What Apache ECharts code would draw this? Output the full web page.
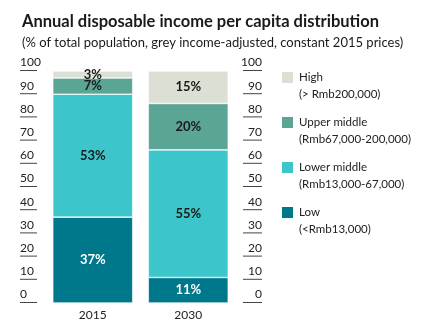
<!DOCTYPE html>
<html><head><meta charset="utf-8">
<script src="https://cdn.jsdelivr.net/npm/echarts@6/dist/echarts.min.js"></script>
<style>html,body{margin:0;padding:0;background:#fff}#c{width:435px;height:323px}</style>
</head><body><div id="c"></div>
<script>
var categories = ['2015', '2030'];
var seriesNames = ['Low', 'Lower middle', 'Upper middle', 'High'];
var seriesSub = ['(<Rmb13,000)', '(Rmb13,000-67,000)', '(Rmb67,000-200,000)', '(> Rmb200,000)'];
var lowValues = [37, 11];
var lowerMiddleValues = [53, 55];
var upperMiddleValues = [7, 20];
var highValues = [3, 14];
var lowLabels = ['37%', '11%'];
var lowerMiddleLabels = ['53%', '55%'];
var upperMiddleLabels = ['7%', '20%'];
var highLabels = ['3%', '15%'];
var yTicks = [0, 10, 20, 30, 40, 50, 60, 70, 80, 90, 100];

var colors = ['#00788c', '#3cc6cc', '#5ba595', '#dcdfd3'];
var values = [lowValues, lowerMiddleValues, upperMiddleValues, highValues];
var labels = [lowLabels, lowerMiddleLabels, upperMiddleLabels, highLabels];
var labelColors = ['#ffffff', '#1a1a1a', '#1a1a1a', '#1a1a1a'];
var FONT = 'Lato';

var chart = echarts.init(document.getElementById('c'), null, {renderer: 'canvas'});
var series = seriesNames.map(function (n, i) {
  return {
    name: n, type: 'bar', stack: 'a', barWidth: 80,
    data: values[i],
    itemStyle: {color: colors[i], borderColor: '#ffffff', borderWidth: 0.6},
    label: {
      show: true, position: 'inside', color: labelColors[i],
      fontFamily: FONT, fontSize: 13, fontWeight: 'bold',
      formatter: function (p) { return labels[i][p.dataIndex]; }
    }
  };
});
function yAxisCfg(pos, offset, lineLen, align) {
  return {
    type: 'value', min: 0, max: 100, interval: 10, position: pos, offset: offset,
    axisLine: {show: false}, axisTick: {show: false}, splitLine: {show: false},
    axisLabel: {
      margin: lineLen, align: align, verticalAlign: 'bottom',
      formatter: function (v) {
        return yTicks.indexOf(v) >= 0 ? '{t|' + v + '}\n{u| }' : '';
      },
      rich: {
        t: {fontFamily: FONT, fontSize: 12, color: '#222', lineHeight: 15, align: align},
        u: {width: lineLen, height: 1, lineHeight: 1, fontSize: 1, backgroundColor: '#444', align: align}
      }
    }
  };
}
chart.setOption({
  animation: false,
  title: {
    text: 'Annual disposable income per capita distribution',
    subtext: '(% of total population, grey income-adjusted, constant 2015 prices)',
    left: 17, top: 8, itemGap: 6,
    textStyle: {fontFamily: FONT, fontSize: 16.5, fontWeight: 'bold', color: '#1a1a1a'},
    subtextStyle: {fontFamily: FONT, fontSize: 13, color: '#1a1a1a'}
  },
  legend: {
    orient: 'vertical', left: 275, top: 64, itemGap: 11,
    itemWidth: 13, itemHeight: 30,
    icon: 'path://M0,0L13,0L13,13L0,13Z M0,30L0.01,30L0,30Z',
    data: ['High', 'Upper middle', 'Lower middle', 'Low'],
    textStyle: {fontFamily: FONT, fontSize: 11.5, color: '#222', lineHeight: 17},
    formatter: function (n) { return n + '\n' + seriesSub[seriesNames.indexOf(n)]; }
  },
  grid: {left: 45, right: 199, top: 71, bottom: 20},
  xAxis: {
    type: 'category', data: categories,
    axisLine: {show: false}, axisTick: {show: false},
    axisLabel: {color: '#222', fontFamily: FONT, fontSize: 12, margin: 6}
  },
  yAxis: [yAxisCfg('left', 8, 17, 'left'), yAxisCfg('right', 7, 19, 'right')],
  series: series
});
</script></body></html>
